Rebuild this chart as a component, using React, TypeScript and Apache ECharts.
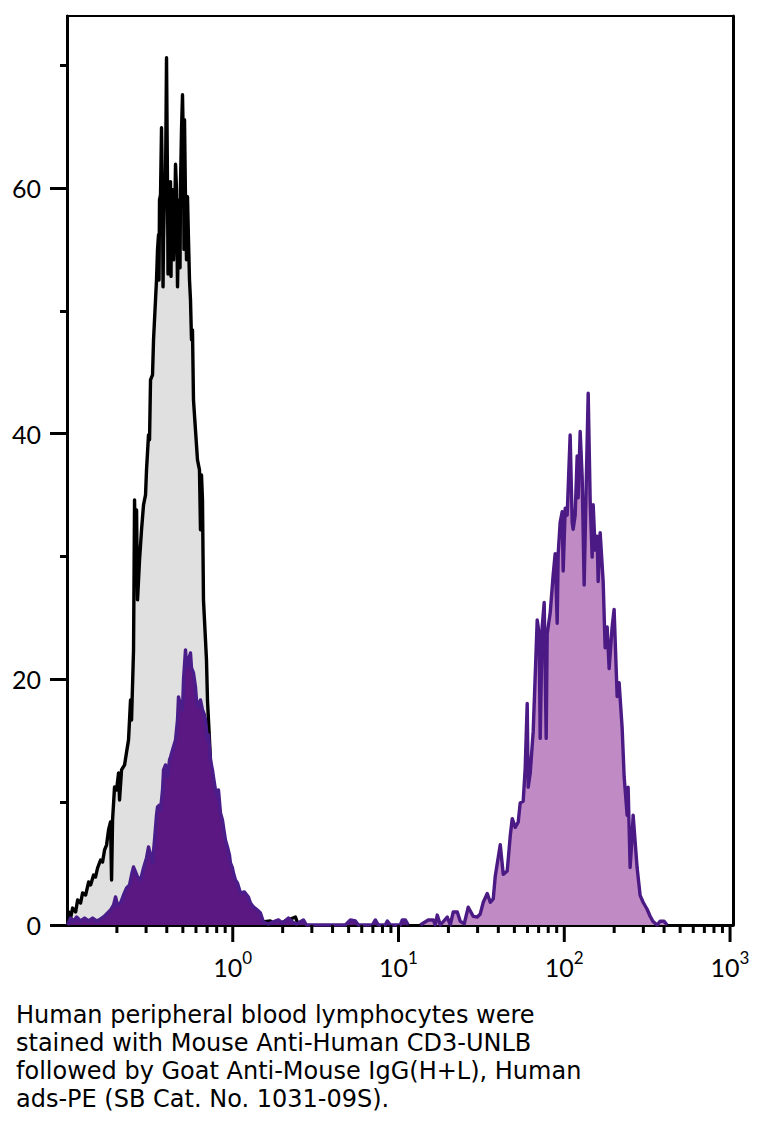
import { useEffect, useRef } from 'react';
import * as echarts from 'echarts';

// Isotype / unstained control (grey fill, black outline)
const isotypeData: [number, number][] = [
  [0.1008, 0], [0.1022, 1.06], [0.1051, 0.57], [0.1081, 1.38], [0.1127, 1.06], [0.1159, 2.04],
  [0.1208, 1.79], [0.1242, 2.61], [0.1295, 2.44], [0.135, 3.5], [0.1388, 3.26], [0.1447, 4.07],
  [0.1487, 3.91], [0.1529, 4.64], [0.1594, 5.29], [0.1639, 5.13], [0.1685, 6.11], [0.1732, 6.51],
  [0.1781, 7.74], [0.1831, 8.39], [0.1857, 3.66], [0.1883, 8.55], [0.1936, 11.24], [0.1991, 10.99],
  [0.2047, 12.38], [0.2075, 10.18], [0.2134, 12.62], [0.2225, 13.03], [0.2288, 14.09], [0.2351, 15.07],
  [0.2417, 18.32], [0.2451, 16.69], [0.252, 22.39], [0.2556, 34.61], [0.2591, 29.72], [0.2628, 33.79],
  [0.2664, 26.47], [0.2739, 29.72], [0.2816, 32.17], [0.2895, 34.2], [0.2977, 35.02], [0.3018, 37.05],
  [0.3103, 39.9], [0.3147, 39.5], [0.3191, 44.38], [0.3281, 44.79], [0.3327, 47.64], [0.342, 50.9],
  [0.3468, 52.52], [0.3516, 54.97], [0.3565, 56.19], [0.359, 52.5], [0.3615, 59.04], [0.3666, 59.45],
  [0.3717, 64.9], [0.377, 59.04], [0.3796, 51.95], [0.3822, 55.78], [0.3876, 59.45], [0.393, 60.67],
  [0.3985, 70.6], [0.4041, 59.85], [0.4069, 53.0], [0.4097, 57.41], [0.4155, 60.26], [0.4213, 60.5],
  [0.4242, 52.8], [0.4272, 59.04], [0.4331, 59.85], [0.4392, 54.15], [0.4453, 56.6], [0.4515, 61.93],
  [0.4578, 59.85], [0.4642, 51.95], [0.4707, 56.6], [0.4773, 59.04], [0.4806, 53.5], [0.4839, 60.26],
  [0.4907, 64.74], [0.4975, 67.59], [0.5045, 63.11], [0.508, 55.0], [0.5116, 65.55], [0.5187, 59.04],
  [0.526, 54.15], [0.5333, 59.28], [0.5407, 55.78], [0.5483, 52.52], [0.5559, 50.9],
  [0.5637, 47.64], [0.5715, 48.45], [0.5795, 42.75], [0.5958, 40.31], [0.6126, 37.87], [0.6298, 37.05],
  [0.6387, 32.17], [0.6476, 36.64], [0.6567, 34.61], [0.6658, 26.47], [0.6752, 24.84], [0.6846, 23.21],
  [0.6942, 21.58], [0.7039, 18.32], [0.7137, 16.69], [0.7337, 13.44], [0.7544, 10.18], [0.7757, 7.74],
  [0.7976, 5.7], [0.8314, 4.48], [0.8667, 3.26], [0.9163, 2.44], [0.9685, 1.63], [1.038, 1.22],
  [1.113, 0.81], [1.243, 0.57], [1.37, 1.06], [1.428, 0.41], [1.51, 0.24], [1.688, 0.33],
  [1.809, 0], [2.388, 0.65], [2.489, 0], [2.559, 0],
];

// Low-intensity stained population (dark purple)
const lowPeakData: [number, number][] = [
  [0.1008, 0], [0.1051, 0.57], [0.1096, 0.33], [0.1143, 0.65], [0.1208, 0.33], [0.1277, 0.57],
  [0.135, 0.33], [0.1427, 0.57], [0.1508, 0.33], [0.1594, 0.49], [0.1685, 0.73], [0.1757, 0.98],
  [0.1831, 1.22], [0.191, 1.63], [0.1963, 2.28], [0.2018, 1.63], [0.2103, 1.79], [0.2193, 2.44],
  [0.2288, 3.01], [0.2384, 3.26], [0.2451, 4.07], [0.252, 4.72], [0.2591, 4.32], [0.2664, 3.91],
  [0.2777, 3.66], [0.2895, 4.64], [0.3018, 5.46], [0.3103, 6.35], [0.3191, 5.7], [0.3281, 5.05],
  [0.3373, 6.92], [0.3468, 8.96], [0.3516, 9.61], [0.3615, 9.77], [0.3666, 9.36], [0.377, 10.99],
  [0.3822, 12.62], [0.393, 13.03], [0.4041, 12.05], [0.4155, 13.44], [0.4213, 13.68], [0.4331, 14.25],
  [0.4515, 15.07], [0.4642, 16.69], [0.4707, 18.57], [0.4839, 17.92], [0.4975, 17.51], [0.5045, 19.95],
  [0.5187, 22.39], [0.526, 21.17], [0.5333, 21.01], [0.5407, 21.58], [0.5559, 22.15], [0.5637, 20.93],
  [0.5795, 20.52], [0.5958, 19.38], [0.6041, 18.32], [0.6211, 17.75], [0.6387, 18.32], [0.6567, 17.51],
  [0.6752, 17.1], [0.6846, 16.69], [0.7039, 15.07], [0.7137, 15.47], [0.7337, 13.44], [0.7544, 12.62],
  [0.7649, 12.05], [0.7865, 10.99], [0.8087, 10.42], [0.8199, 10.99], [0.8431, 9.12], [0.8667, 8.55],
  [0.8788, 7.98], [0.9037, 6.92], [0.9291, 6.35], [0.9552, 5.7], [0.9685, 5.05], [0.9959, 4.64],
  [1.0098, 4.23], [1.038, 3.66], [1.0674, 3.42], [1.113, 2.61], [1.1764, 2.69], [1.243, 2.28],
  [1.2787, 1.79], [1.3329, 1.47], [1.4089, 1.22], [1.4687, 0.98], [1.531, 0.24], [1.6414, 0.08],
  [1.735, 0.24], [1.8862, 0.41], [1.9935, 0.16], [2.1667, 0.57], [2.2902, 0.24], [2.4208, 0.08],
  [2.668, 0.41], [2.782, 0], [4.778, 0], [5.123, 0.41], [5.491, 0.33], [5.724, 0],
  [6.952, 0], [7.248, 0.41], [7.555, 0], [8.327, 0], [8.561, 0.33], [8.925, 0],
  [10.25, 0], [10.54, 0.41], [10.99, 0.41], [11.46, 0],
];

// CD3-positive population (light purple)
const highPeakData: [number, number][] = [
  [13.53, 0], [15.12, 0.41], [16.21, 0.41], [16.67, 0], [17.13, 0.81], [17.87, 0],
  [19.68, 0.65], [20.52, 0], [21.39, 1.06], [22.62, 1.06], [23.58, 0.3], [24.92, 0.1],
  [26.34, 1.45], [28.24, 0.7], [29.86, 0.65], [31.13, 0.9], [32.45, 1.85], [34.3, 2.56],
  [35.76, 1.85], [37.28, 2.13], [38.33, 3.97], [41.09, 6.53], [42.83, 4.12], [45.27, 4.4],
  [47.2, 7.24], [48.53, 8.66], [50.58, 7.95], [52.73, 8.37], [54.22, 9.94], [56.52, 10.08],
  [58.11, 12.78], [59.75, 18.03], [60.58, 11.21], [62.29, 12.35], [64.94, 15.76], [68.66, 24.84],
  [70.59, 23.7], [71.57, 15.19], [73.58, 24.27], [75.65, 26.26], [77.78, 15.19], [78.87, 23.7],
  [82.22, 25.41], [85.72, 28.53], [88.13, 30.23], [90.61, 24.56], [91.88, 30.23], [94.46, 32.79],
  [97.12, 33.64], [98.48, 28.82], [101.3, 33.93], [104.1, 33.36], [108.5, 39.89], [111.6, 32.79],
  [113.1, 32.22], [116.3, 33.36], [119.6, 38.18], [121.3, 34.78], [124.7, 40.17], [128.2, 36.48],
  [131.8, 27.68], [135.5, 35.63], [139.4, 43.29], [143.3, 34.49], [147.3, 29.95], [149.4, 34.21],
  [153.6, 30.52], [157.9, 31.65], [160.1, 27.96], [164.6, 31.94], [171.6, 27.96], [176.4, 22.57],
  [181.4, 24.27], [186.5, 20.87], [194.4, 24.27], [199.8, 25.69], [208.4, 18.6], [214.2, 19.73],
  [223.4, 16.04], [229.7, 12.07], [239.4, 8.94], [242.8, 11.21], [249.6, 4.68], [256.6, 7.24],
  [260.2, 8.94], [275.0, 4.68], [286.8, 2.41], [299.0, 1.85], [316.0, 1.28], [329.5, 0.71],
  [343.5, 0.28], [363.1, 0], [378.3, 0.3], [400.2, 0.3], [417.2, 0],
];

const xDecades = [1, 10, 100, 1000];
const xDecadeExponents = ['0', '1', '2', '3'];
const xMinorTicks = [
  0.2, 0.3, 0.4, 0.5, 0.6, 0.7, 0.8, 0.9,
  2, 3, 4, 5, 6, 7, 8, 9,
  20, 30, 40, 50, 60, 70, 80, 90,
  200, 300, 400, 500, 600, 700, 800, 900,
];
const yMajorTicks = [0, 20, 40, 60];
const yMinorTicks = [10, 30, 50, 70];
const captionLines = [
  'Human peripheral blood lymphocytes were',
  'stained with Mouse Anti-Human CD3-UNLB',
  'followed by Goat Anti-Mouse IgG(H+L), Human',
  'ads-PE (SB Cat. No. 1031-09S).',
];

const FONT = 'Lato, "Noto Sans", sans-serif';
const CAPTION_FONT = '"DejaVu Sans", "Liberation Sans", sans-serif';

export default function App() {
  const ref = useRef<HTMLDivElement>(null);

  useEffect(() => {
    const chart = echarts.init(ref.current!, null, { renderer: 'svg' });

    const tickSeries = (vals: number[], len: number) => ({
      type: 'custom',
      silent: true,
      clip: false,
      z: 10,
      xAxisIndex: 0,
      yAxisIndex: 0,
      data: vals.map((v) => [v, 0]),
      renderItem: (_params: any, api: any) => {
        const p = api.coord([api.value(0), 0]);
        return {
          type: 'line',
          shape: { x1: p[0], y1: p[1], x2: p[0], y2: p[1] + len },
          style: { stroke: '#000', lineWidth: 3 },
        };
      },
    });

    const axisLineStyle = { color: '#000', width: 3 };

    chart.setOption({
      animation: false,
      backgroundColor: '#fff',
      grid: {
        left: 67,
        right: 26,
        top: 16,
        bottom: 211,
        show: true,
        borderColor: '#000',
        borderWidth: 2,
        backgroundColor: 'transparent',
        outerBoundsMode: 'none',
      },
      xAxis: {
        type: 'log',
        logBase: 10,
        min: 0.1,
        max: 1042,
        axisLine: { show: true, onZero: false, lineStyle: axisLineStyle },
        axisTick: { show: false },
        splitLine: { show: false },
        minorTick: { show: false },
        axisLabel: {
          margin: 24,
          color: '#000',
          formatter: (v: number) => {
            const i = xDecades.findIndex((d) => Math.abs(v / d - 1) < 0.01);
            return i < 0 ? '' : `{b|10}{s|${xDecadeExponents[i]}}`;
          },
          rich: {
            b: { fontSize: 25, fontFamily: FONT, color: '#000', lineHeight: 30, verticalAlign: 'bottom' },
            s: { fontSize: 17, fontFamily: FONT, color: '#000', lineHeight: 17, verticalAlign: 'top' },
          },
        },
      },
      yAxis: [
        {
          type: 'value',
          min: 0,
          max: 74,
          position: 'left',
          axisLine: { show: true, lineStyle: axisLineStyle },
          axisTick: { show: true, length: 17, customValues: yMajorTicks, lineStyle: axisLineStyle },
          axisLabel: {
            customValues: yMajorTicks,
            margin: 26,
            fontSize: 25,
            fontFamily: FONT,
            color: '#000',
            formatter: (v: number) => (yMajorTicks.includes(v) ? String(v) : ''),
          },
          splitLine: { show: false },
        },
        {
          type: 'value',
          min: 0,
          max: 74,
          position: 'left',
          axisLine: { show: false },
          axisTick: { show: true, length: 7, customValues: yMinorTicks, lineStyle: axisLineStyle },
          axisLabel: { show: false },
          splitLine: { show: false },
        },
        {
          type: 'value',
          min: 0,
          max: 74,
          position: 'right',
          axisLine: { show: true, lineStyle: axisLineStyle },
          axisTick: { show: false },
          axisLabel: { show: false },
          splitLine: { show: false },
        },
      ],
      series: [
        {
          name: 'Control',
          type: 'line',
          data: isotypeData,
          symbol: 'none',
          showSymbol: false,
          lineStyle: { color: '#000', width: 3.4, join: 'round' },
          areaStyle: { color: '#e0e0e0', opacity: 1 },
          z: 2,
        },
        {
          name: 'Low',
          type: 'line',
          data: lowPeakData,
          symbol: 'none',
          showSymbol: false,
          lineStyle: { color: '#4b1d8a', width: 3.4, join: 'round' },
          areaStyle: { color: '#5b1883', opacity: 1 },
          z: 3,
        },
        {
          name: 'CD3',
          type: 'line',
          data: highPeakData,
          symbol: 'none',
          showSymbol: false,
          lineStyle: { color: '#4b1a85', width: 3.4, join: 'round' },
          areaStyle: { color: '#c08bc4', opacity: 1 },
          z: 3,
        },
        tickSeries(xDecades, 17),
        tickSeries(xMinorTicks, 8),
      ],
      graphic: [
        {
          type: 'text',
          left: 16,
          top: 1001,
          style: {
            text: captionLines.join('\n'),
            fontSize: 24,
            fontFamily: CAPTION_FONT,
            lineHeight: 28,
            fill: '#000',
          },
        },
      ],
    });

    return () => chart.dispose();
  }, []);

  return (
    <div
      ref={ref}
      style={{ position: 'absolute', left: 0, top: 0, width: 759, height: 1136 }}
    />
  );
}
